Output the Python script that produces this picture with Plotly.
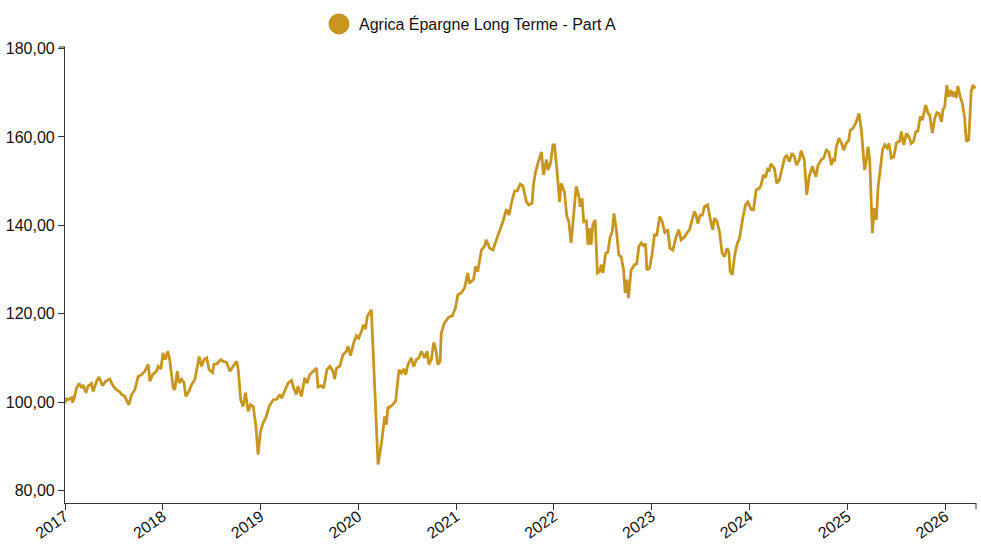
import plotly.graph_objects as go

series_name = "Agrica Épargne Long Terme - Part A"

dates = [
    "2017-01-01", "2017-01-06", "2017-01-13", "2017-01-26", "2017-01-29", "2017-02-03", "2017-02-13", "2017-02-23",
    "2017-03-04", "2017-03-10", "2017-03-20", "2017-03-28", "2017-04-10", "2017-04-16", "2017-04-29", "2017-05-08",
    "2017-05-21", "2017-06-02", "2017-06-17", "2017-06-30", "2017-07-12", "2017-07-23", "2017-08-01", "2017-08-12",
    "2017-08-27", "2017-09-07", "2017-09-19", "2017-10-01", "2017-10-14", "2017-10-26", "2017-11-08", "2017-11-14",
    "2017-11-24", "2017-12-09", "2017-12-15", "2017-12-25",
    "2018-01-02", "2018-01-10", "2018-01-20", "2018-01-27", "2018-02-09", "2018-02-15", "2018-02-24", "2018-03-03",
    "2018-03-12", "2018-03-21", "2018-03-28", "2018-04-06", "2018-04-19", "2018-05-01", "2018-05-17", "2018-05-26",
    "2018-06-04", "2018-06-14", "2018-06-23", "2018-07-06", "2018-07-11", "2018-07-23", "2018-08-06", "2018-08-15",
    "2018-08-27", "2018-09-09", "2018-09-21", "2018-10-04", "2018-10-10", "2018-10-19", "2018-10-28", "2018-11-06",
    "2018-11-16", "2018-11-25", "2018-12-05", "2018-12-15", "2018-12-23",
    "2019-01-01", "2019-01-11", "2019-01-23", "2019-02-02", "2019-02-17", "2019-03-04", "2019-03-14", "2019-03-21",
    "2019-04-02", "2019-04-14", "2019-04-27", "2019-05-05", "2019-05-15", "2019-05-21", "2019-06-03", "2019-06-15",
    "2019-06-24", "2019-07-04", "2019-07-23", "2019-07-29", "2019-08-04", "2019-08-16", "2019-08-25", "2019-09-06",
    "2019-09-17", "2019-09-29", "2019-10-05", "2019-10-12", "2019-10-24", "2019-11-05", "2019-11-18", "2019-11-24",
    "2019-12-03", "2019-12-15", "2019-12-25",
    "2020-01-03", "2020-01-13", "2020-01-21", "2020-01-28", "2020-02-04", "2020-02-15", "2020-02-19", "2020-03-15",
    "2020-03-28", "2020-04-09", "2020-04-15", "2020-04-21", "2020-04-25", "2020-05-08", "2020-05-20", "2020-06-01",
    "2020-06-10", "2020-06-19", "2020-06-26", "2020-07-05", "2020-07-17", "2020-07-26", "2020-08-05", "2020-08-14",
    "2020-08-24", "2020-09-05", "2020-09-14", "2020-09-21", "2020-09-30", "2020-10-09", "2020-10-18", "2020-10-24",
    "2020-11-02", "2020-11-06", "2020-11-18", "2020-12-04", "2020-12-17", "2020-12-29",
    "2021-01-07", "2021-01-20", "2021-02-01", "2021-02-13", "2021-02-19", "2021-03-07", "2021-03-14", "2021-03-22",
    "2021-04-05", "2021-04-17", "2021-04-23", "2021-05-06", "2021-05-18", "2021-05-31", "2021-06-12", "2021-06-24",
    "2021-07-07", "2021-07-17", "2021-07-26", "2021-08-07", "2021-08-17", "2021-08-28", "2021-09-07", "2021-09-20",
    "2021-09-29", "2021-10-11", "2021-10-17", "2021-10-24", "2021-11-02", "2021-11-15", "2021-11-23", "2021-12-04",
    "2021-12-10", "2021-12-19", "2021-12-28",
    "2022-01-03", "2022-01-12", "2022-01-22", "2022-01-28", "2022-02-09", "2022-02-18", "2022-02-25", "2022-03-06",
    "2022-03-15", "2022-03-25", "2022-04-04", "2022-04-09", "2022-04-16", "2022-04-22", "2022-05-02", "2022-05-08",
    "2022-05-14", "2022-05-20", "2022-05-26", "2022-06-04", "2022-06-12", "2022-06-20", "2022-06-27", "2022-07-03",
    "2022-07-13", "2022-07-21", "2022-07-30", "2022-08-07", "2022-08-13", "2022-08-22", "2022-08-31", "2022-09-09",
    "2022-09-18", "2022-09-24", "2022-09-30", "2022-10-06", "2022-10-16", "2022-10-29", "2022-11-06", "2022-11-14",
    "2022-11-23", "2022-12-02", "2022-12-09", "2022-12-14", "2022-12-24",
    "2023-01-03", "2023-01-11", "2023-01-20", "2023-01-31", "2023-02-09", "2023-02-19", "2023-03-02", "2023-03-10",
    "2023-03-21", "2023-04-01", "2023-04-12", "2023-04-21", "2023-05-04", "2023-05-16", "2023-05-22", "2023-06-01",
    "2023-06-10", "2023-06-16", "2023-06-22", "2023-07-01", "2023-07-09", "2023-07-17", "2023-07-29", "2023-08-07",
    "2023-08-17", "2023-08-23", "2023-09-01", "2023-09-11", "2023-09-21", "2023-09-30", "2023-10-09", "2023-10-16",
    "2023-10-21", "2023-10-29", "2023-11-06", "2023-11-15", "2023-11-25", "2023-12-07", "2023-12-17", "2023-12-26",
    "2024-01-07", "2024-01-16", "2024-01-26", "2024-02-07", "2024-02-13", "2024-02-22", "2024-03-01", "2024-03-09",
    "2024-03-15", "2024-03-21", "2024-04-03", "2024-04-12", "2024-04-22", "2024-05-02", "2024-05-11", "2024-05-19",
    "2024-05-29", "2024-06-08", "2024-06-17", "2024-06-25", "2024-07-05", "2024-07-12", "2024-07-24", "2024-08-02",
    "2024-08-11", "2024-08-23", "2024-09-05", "2024-09-13", "2024-09-26", "2024-10-04", "2024-10-14", "2024-10-24",
    "2024-11-02", "2024-11-08", "2024-11-14", "2024-11-20", "2024-11-30", "2024-12-09", "2024-12-18", "2024-12-27",
    "2025-01-06", "2025-01-11", "2025-01-21", "2025-02-03", "2025-02-13", "2025-02-22", "2025-02-28", "2025-03-06",
    "2025-03-13", "2025-03-19", "2025-03-25", "2025-04-04", "2025-04-11", "2025-04-19", "2025-04-25", "2025-05-04",
    "2025-05-12", "2025-05-20", "2025-05-29", "2025-06-05", "2025-06-14", "2025-06-23", "2025-07-03", "2025-07-15",
    "2025-07-21", "2025-07-30", "2025-08-09", "2025-08-19", "2025-08-27", "2025-09-05", "2025-09-13", "2025-09-21",
    "2025-09-30", "2025-10-08", "2025-10-20", "2025-10-29", "2025-11-04", "2025-11-14", "2025-11-23", "2025-12-01",
    "2025-12-09", "2025-12-18", "2025-12-24", "2025-12-30",
    "2026-01-07", "2026-01-14", "2026-01-23", "2026-01-29", "2026-02-05", "2026-02-11", "2026-02-17", "2026-02-26",
    "2026-03-06", "2026-03-14", "2026-03-21", "2026-03-30", "2026-04-08", "2026-04-14", "2026-04-24",
]

values = [
    99.8, 100.7, 100.6, 101.0, 99.9, 100.6, 103.2, 104.2,
    103.2, 103.9, 102.1, 103.6, 104.2, 102.4, 104.7, 105.7,
    103.7, 104.7, 105.2, 103.6, 102.8, 102.4, 101.7, 101.3,
    99.4, 101.7, 102.8, 105.8, 106.2, 107.0, 108.5, 104.7,
    106.2, 107.0, 108.1, 107.5,
    111.1, 109.6, 111.5, 109.6, 103.2, 102.8, 107.0, 104.3,
    105.2, 104.5, 101.3, 102.1, 104.0, 105.1, 110.3, 108.1,
    109.6, 110.0, 107.3, 106.7, 108.5, 108.7, 109.6, 109.2,
    109.0, 107.0, 108.1, 109.2, 107.3, 100.5, 99.0, 102.1,
    97.9, 99.4, 99.0, 94.5, 88.1,
    93.4, 95.3, 96.8, 99.0, 100.5, 100.7, 101.7, 100.9,
    102.8, 104.3, 104.9, 103.2, 101.7, 103.6, 101.3, 105.5,
    104.3, 106.2, 107.3, 107.7, 103.4, 103.7, 103.2, 107.3,
    108.1, 107.0, 105.2, 107.7, 108.1, 110.7, 111.5, 112.6,
    110.5, 113.4, 115.0,
    114.5, 116.0, 117.5, 116.5, 119.4, 120.5, 120.9, 85.9,
    90.8, 96.8, 94.9, 99.0, 98.7, 99.4, 100.2, 107.3,
    106.6, 107.5, 106.2, 108.5, 110.0, 108.0, 109.6, 110.0,
    111.5, 110.0, 111.5, 108.5, 109.6, 113.5, 111.5, 108.5,
    109.2, 115.6, 117.9, 119.2, 119.5, 121.3,
    124.3, 124.7, 125.8, 129.2, 126.9, 127.8, 130.7, 129.5,
    134.4, 135.3, 136.7, 134.8, 134.4, 136.7, 138.6, 140.8,
    143.6, 142.3, 145.0, 147.8, 147.8, 149.3, 148.9, 145.3,
    144.6, 145.0, 149.5, 152.0, 154.0, 156.6, 151.4, 154.9,
    152.5, 154.0, 158.2,
    158.2, 152.5, 145.3, 149.5, 147.6, 142.0, 141.0, 136.0,
    142.0, 148.8, 146.5, 144.2, 146.1, 140.8, 141.0, 135.6,
    139.3, 135.6, 140.1, 141.2, 129.2, 129.5, 131.1, 129.2,
    133.7, 133.9, 137.4, 138.6, 142.7, 139.0, 133.3, 132.9,
    129.9, 124.7, 127.7, 123.5, 129.9, 131.1, 131.3, 135.2,
    136.0, 135.4, 135.8, 129.9, 130.3,
    133.7, 137.8, 137.8, 142.0, 140.8, 138.4, 139.0, 134.8,
    134.4, 137.1, 139.0, 136.7, 137.4, 138.6, 139.0, 141.2,
    143.1, 142.3, 140.4, 142.3, 142.3, 144.2, 144.6, 141.6,
    139.0, 141.6, 141.0, 138.6, 133.7, 132.9, 134.8, 134.0,
    129.6, 128.8, 132.9, 135.6, 137.1, 141.6, 144.6, 145.3,
    143.6, 143.5, 148.0, 148.4, 149.0, 151.4, 150.8, 152.7,
    152.5, 153.9, 152.9, 149.5, 150.3, 152.9, 155.2, 155.9,
    154.4, 156.3, 155.5, 153.6, 154.8, 156.9, 154.8, 146.9,
    151.0, 153.3, 151.0, 153.6, 154.9, 155.2, 157.0, 156.5,
    153.6, 154.8, 154.5, 157.6, 159.7, 158.7, 157.0, 158.5,
    159.3, 161.5, 161.9, 163.4, 165.3, 161.5, 157.8, 152.5,
    154.8, 157.8, 155.0, 138.2, 143.9, 141.2, 148.4, 152.5,
    157.0, 158.2, 157.5, 158.5, 155.2, 155.5, 158.7, 159.0,
    161.2, 158.2, 160.8, 160.0, 158.5, 159.0, 161.2, 161.3,
    164.6, 163.8, 167.2, 165.3, 165.0, 160.9, 164.2, 165.5,
    165.3, 163.4, 166.2, 166.8,
    171.7, 169.1, 170.6, 169.1, 170.2, 168.8, 171.5, 169.1,
    167.6, 164.6, 158.9, 159.4, 170.2, 171.7, 171.0,
]

year_tick_dates = ["2017-01-01", "2018-01-01", "2019-01-01", "2020-01-01", "2021-01-01",
                   "2022-01-01", "2023-01-01", "2024-01-01", "2025-01-01", "2026-01-01"]
year_tick_labels = ["2017", "2018", "2019", "2020", "2021", "2022", "2023", "2024", "2025", "2026"]
y_tick_values = [80, 100, 120, 140, 160, 180]

GOLD = "#C8961F"
AXIS = "#333333"
FONT = "Arial, Liberation Sans, sans-serif"

fig = go.Figure()
fig.add_trace(go.Scatter(
    x=dates, y=values, mode="lines",
    line=dict(color=GOLD, width=2.8),
    showlegend=False, hoverinfo="x+y",
))
fig.add_trace(go.Scatter(
    x=[None], y=[None], mode="markers", name=series_name,
    marker=dict(color=GOLD, size=16, line=dict(color=GOLD, width=5)),
))

fig.update_layout(
    width=981, height=545,
    margin=dict(l=65, r=5, t=47, b=42, pad=0),
    paper_bgcolor="white", plot_bgcolor="white",
    separators=", ",
    font=dict(family=FONT, size=16, color="#111111"),
    legend=dict(
        orientation="h", xref="container", yref="container",
        x=319 / 981, xanchor="left", y=1 - 24 / 545, yanchor="middle",
        font=dict(size=16, color="#111111"), itemsizing="trace",
        bgcolor="rgba(0,0,0,0)",
    ),
    xaxis=dict(
        type="date", range=["2017-01-01", "2026-04-26"],
        tickmode="array", tickvals=year_tick_dates, ticktext=year_tick_labels,
        tickangle=-35, ticks="outside", ticklen=6, tickcolor=AXIS, tickwidth=1,
        ticklabelstandoff=-9,
        showline=True, linecolor=AXIS, linewidth=1.2,
        showgrid=False, zeroline=False, automargin=False,
        tickfont=dict(size=16, color="#111111"),
    ),
    yaxis=dict(
        range=[77.17, 180.34],
        tickmode="array", tickvals=y_tick_values, tickformat=".2f",
        ticks="outside", ticklen=6, tickcolor=AXIS, tickwidth=1,
        showline=True, linecolor=AXIS, linewidth=1.2,
        showgrid=False, zeroline=False, automargin=False,
        tickfont=dict(size=16, color="#111111"),
    ),
    shapes=[
        # outer (domain-end) ticks like the reference axes
        dict(type="line", xref="paper", yref="paper", xsizemode="pixel", xanchor=0,
             x0=-6, x1=0, y0=1, y1=1, line=dict(color=AXIS, width=1)),
        dict(type="line", xref="paper", yref="paper", ysizemode="pixel", yanchor=0,
             x0=1, x1=1, y0=0, y1=-6, line=dict(color=AXIS, width=1)),
    ],
)

fig.write_html(
    "out.html",
    config={"displayModeBar": False},
    post_script="document.body.style.margin='0';document.body.style.padding='0';",
)
